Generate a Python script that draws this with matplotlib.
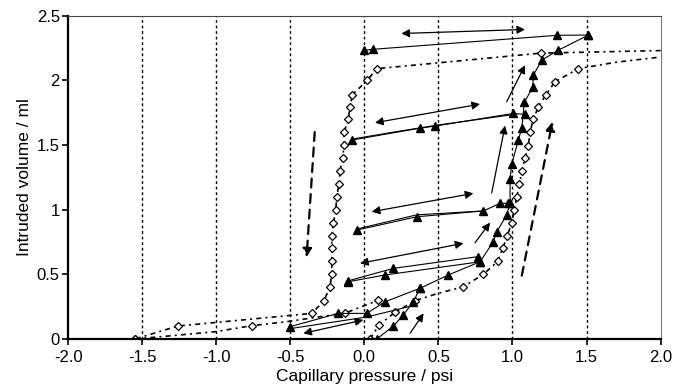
import matplotlib
matplotlib.use("Agg")
import matplotlib.pyplot as plt

plt.rcParams['font.family'] = ['Liberation Sans', 'DejaVu Sans']

# open diamonds - primary drainage branch (left)
dr_x = [2.0, 1.19, 0.084, 0.02, -0.08, -0.097, -0.108, -0.137, -0.137, -0.146, -0.164, -0.171,
        -0.186, -0.193, -0.209, -0.22, -0.22, -0.22, -0.22, -0.232, -0.272, -0.355, -1.26, -1.548]
dr_y = [2.23, 2.21, 2.09, 2.0, 1.89, 1.795, 1.70, 1.60, 1.50, 1.40, 1.30, 1.20,
        1.10, 1.0, 0.894, 0.80, 0.70, 0.60, 0.50, 0.404, 0.296, 0.198, 0.10, 0.0]
# open diamonds - imbibition branch (right)
im_x = [0.038, 0.099, 0.207, 0.342, 0.489, 0.669, 0.804, 0.90, 0.934, 0.966, 0.995, 1.013, 1.029,
        1.047, 1.063, 1.085, 1.107, 1.119, 1.141, 1.175, 1.227, 1.288, 1.445, 1.70, 2.0]
im_y = [0.0, 0.108, 0.206, 0.296, 0.35, 0.404, 0.50, 0.60, 0.70, 0.80, 0.90, 1.0, 1.10,
        1.195, 1.30, 1.40, 1.49, 1.60, 1.70, 1.795, 1.89, 1.99, 2.09, 2.14, 2.18]
# open diamonds - low branch
lo_x = [-1.548, -1.008, -0.76, -0.524, -0.13, 0.095]
lo_y = [0.0, 0.056, 0.103, 0.134, 0.2, 0.30]

# filled triangles - scanning curves
tm_x = [0.084, 0.196, 0.263, 0.33, 0.376, 0.567, 0.781, 0.871, 0.894, 0.961, 0.984, 0.984,
        0.995, 1.04, 1.063, 1.08, 1.137, 1.141, 1.198, 1.31, 1.513]
tm_y = [0.0, 0.10, 0.185, 0.288, 0.392, 0.495, 0.597, 0.752, 0.829, 0.958, 1.05, 1.24,
        1.35, 1.54, 1.63, 1.83, 1.945, 2.04, 2.156, 2.233, 2.35]
tt_x = [1.513, 1.303, 0.061, 0.0]
tt_y = [2.35, 2.348, 2.24, 2.232]
t2a_x = [1.085, 1.006, 0.477, 0.376, -0.085]
t2a_y = [1.736, 1.744, 1.646, 1.63, 1.538]
t2b_x = [1.006, 0.5, 0.2, -0.085]
t2b_y = [1.735, 1.655, 1.6, 1.545]
t3a_x = [0.972, 0.916, 0.804, 0.354, -0.051]
t3a_y = [1.049, 1.049, 0.99, 0.945, 0.842]
t3b_x = [0.804, 0.354, -0.051]
t3b_y = [0.99, 0.96, 0.85]
t4a_x = [0.77, 0.196, -0.108]
t4a_y = [0.637, 0.546, 0.45]
t4b_x = [0.781, 0.14, -0.108]
t4b_y = [0.597, 0.495, 0.443]
t5a_x = [0.376, 0.14, 0.016, -0.176, -0.502]
t5a_y = [0.392, 0.288, 0.198, 0.198, 0.095]
t5b_x = [-0.502, 0.016, 0.30]
t5b_y = [0.08, 0.17, 0.25]

# direction arrows: (x0, y0, x1, y1)
double_arrows = [(0.25, 2.362, 1.085, 2.393), (0.072, 1.672, 0.781, 1.816),
                 (0.05, 0.984, 0.736, 1.126), (-0.029, 0.585, 0.669, 0.74),
                 (-0.412, 0.044, -0.007, 0.147)]
single_arrows = [(0.309, 0.044, 0.40, 0.198), (0.747, 0.744, 0.849, 0.9),
                 (0.86, 1.13, 0.95, 1.65), (0.961, 1.834, 1.085, 2.117)]
dashed_arrows = [(1.063, 0.49, 1.27, 1.68), (-0.335, 1.60, -0.39, 0.63)]

fig, ax = plt.subplots(figsize=(6.81, 3.91), dpi=100)
fig.subplots_adjust(left=0.1, right=0.97, top=0.96, bottom=0.133)

for gx in [-1.5, -1.0, -0.5, 0.0, 0.5, 1.0, 1.5]:
    ax.axvline(gx, color='black', lw=1.0, ls=(0, (2, 2)), zorder=0)

dstyle = dict(color='black', lw=1.2, ls=(0, (3, 2.5, 1.2, 2.5)), marker='D', ms=4.5,
              mfc='white', mec='black', mew=0.9)
ax.plot(dr_x, dr_y, markevery=list(range(1, len(dr_x))), **dstyle)
ax.plot(im_x, im_y, markevery=[i for i in range(len(im_x)) if i not in (4, 23, 24)], **dstyle)
ax.plot(lo_x, lo_y, markevery=[0, 2, 4, 5], **dstyle)

tstyle = dict(color='black', lw=0.8, marker='^', ms=6, mfc='black', mec='black')
ax.plot(tm_x, tm_y, **tstyle)
for xs, ys in [(tt_x, tt_y), (t2a_x, t2a_y), (t3a_x, t3a_y), (t4a_x, t4a_y),
               (t4b_x, t4b_y), (t5a_x, t5a_y)]:
    ax.plot(xs, ys, **tstyle)
for xs, ys in [(t2b_x, t2b_y), (t3b_x, t3b_y), (t5b_x, t5b_y)]:
    ax.plot(xs, ys, color='black', lw=0.8)

for x0, y0, x1, y1 in double_arrows:
    ax.annotate('', xy=(x1, y1), xytext=(x0, y0),
                arrowprops=dict(arrowstyle='<|-|>', color='black', lw=0.9, mutation_scale=12,
                                shrinkA=0, shrinkB=0))
for x0, y0, x1, y1 in single_arrows:
    ax.annotate('', xy=(x1, y1), xytext=(x0, y0),
                arrowprops=dict(arrowstyle='-|>', color='black', lw=0.9, mutation_scale=12,
                                shrinkA=0, shrinkB=0))
for x0, y0, x1, y1 in dashed_arrows:
    ax.annotate('', xy=(x1, y1), xytext=(x0, y0),
                arrowprops=dict(arrowstyle='-|>', color='black', lw=1.6, ls=(0, (4, 3)),
                                mutation_scale=13, shrinkA=0, shrinkB=0))

ax.set_xlim(-2.0, 2.0)
ax.set_ylim(0, 2.5)
ax.set_xticks([-2.0, -1.5, -1.0, -0.5, 0.0, 0.5, 1.0, 1.5, 2.0])
ax.set_xticklabels(['-2.0', '-1.5', '-1.0', '-0.5', '0.0', '0.5', '1.0', '1.5', '2.0'])
ax.set_yticks([0, 0.5, 1, 1.5, 2, 2.5])
ax.set_yticklabels(['0', '0.5', '1', '1.5', '2', '2.5'])
ax.tick_params(labelsize=12, length=4, width=1.2, direction='out', pad=2)
ax.tick_params(axis='x', pad=4)
ax.set_xlabel('Capillary pressure / psi', fontsize=12.5, labelpad=3)
ax.set_ylabel('Intruded volume / ml', fontsize=12.5, labelpad=3)
ax.spines['left'].set_linewidth(1.6)
ax.spines['bottom'].set_linewidth(1.6)
ax.spines['top'].set_color('#444444')
ax.spines['right'].set_color('#777777')

plt.savefig('out.png', dpi=100)
plt.close()
